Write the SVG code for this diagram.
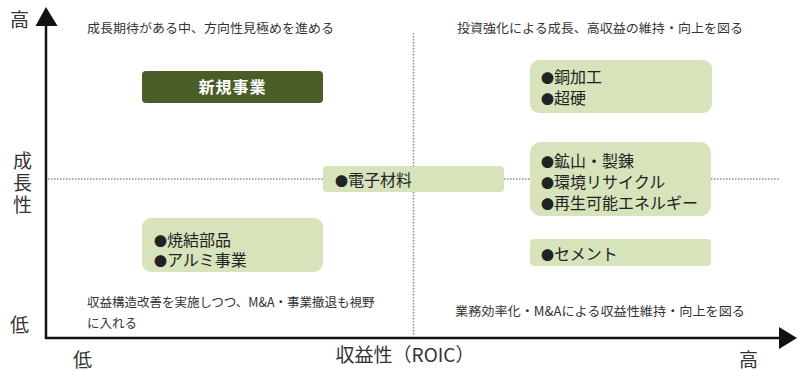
<svg xmlns="http://www.w3.org/2000/svg" width="799" height="371" viewBox="0 0 799 371">
<style>
.q{font-family:"Noto Sans CJK JP","Noto Sans",sans-serif;font-size:12.5px;fill:#333}
.b{font-family:"Noto Sans CJK JP","Noto Sans",sans-serif;font-size:16px;fill:#222}
.bu{font-size:13px}
.ax{font-family:"Noto Sans CJK JP","Noto Sans",sans-serif;font-size:19px;fill:#333}
.lb{fill:#d7e3bb}
.dot{stroke:#8a8a8a;stroke-width:1.5;stroke-dasharray:1.5 1.5;fill:none}
.axis{stroke:#111;stroke-width:2.5;fill:none}
</style>
<rect width="799" height="371" fill="#fff"/>
<g id="grid">
<line class="dot" x1="413.5" y1="33" x2="413.5" y2="336"/>
<line class="dot" x1="48" y1="179" x2="780" y2="179"/>
</g>
<g id="connectors">
<line class="axis" x1="46" y1="339" x2="46" y2="24"/>
<polygon points="46,7 35.5,26 57.5,26" fill="#111"/>
<line class="axis" x1="45" y1="338" x2="782" y2="338"/>
<polygon points="797,338 779,327 779,349" fill="#111"/>
</g>
<g id="axis-labels">
<text class="ax" x="10" y="27">高</text>
<text class="ax" x="13" y="168">成</text>
<text class="ax" x="13" y="190">長</text>
<text class="ax" x="13" y="212">性</text>
<text class="ax" x="10" y="332">低</text>
<text class="ax" x="73" y="367">低</text>
<text class="ax" x="405" y="362" text-anchor="middle" font-size="18">収益性（ROIC）</text>
<text class="ax" x="739" y="367">高</text>
</g>
<g id="quadrant-texts">
<text class="q" x="87" y="33" textLength="247" lengthAdjust="spacingAndGlyphs">成長期待がある中、方向性見極めを進める</text>
<text class="q" x="457" y="33" textLength="286" lengthAdjust="spacingAndGlyphs">投資強化による成長、高収益の維持・向上を図る</text>
<text class="q" x="87" y="307">収益構造改善を実施しつつ、M&amp;A・事業撤退も視野</text>
<text class="q" x="87" y="328">に入れる</text>
<text class="q" x="455" y="316" textLength="290" lengthAdjust="spacingAndGlyphs">業務効率化・M&amp;Aによる収益性維持・向上を図る</text>
</g>
<g id="node-shinki">
<rect x="142" y="71" width="181" height="32" rx="4" fill="#4a5d29"/>
<text x="232.5" y="93" text-anchor="middle" font-family="Noto Sans CJK JP, sans-serif" font-size="16" font-weight="bold" fill="#fff" letter-spacing="1">新規事業</text>
</g>
<g id="node-dou">
<rect class="lb" x="530" y="60" width="182" height="53" rx="9"/>
<text class="b" x="541" y="83"><tspan class="bu">●</tspan>銅加工</text>
<text class="b" x="541" y="104"><tspan class="bu">●</tspan>超硬</text>
</g>
<g id="node-denshi">
<rect class="lb" x="323" y="166" width="181" height="26" rx="4"/>
<text class="b" x="335" y="186"><tspan class="bu">●</tspan>電子材料</text>
</g>
<g id="node-kozan">
<rect class="lb" x="530" y="142" width="181" height="74" rx="11"/>
<text class="b" x="541" y="167"><tspan class="bu">●</tspan>鉱山・製錬</text>
<text class="b" x="541" y="188"><tspan class="bu">●</tspan>環境リサイクル</text>
<text class="b" x="541" y="209"><tspan class="bu">●</tspan>再生可能エネルギー</text>
</g>
<g id="node-cement">
<rect class="lb" x="530" y="239" width="181" height="27" rx="4"/>
<text class="b" x="541" y="260"><tspan class="bu">●</tspan>セメント</text>
</g>
<g id="node-shoketsu">
<rect class="lb" x="142" y="218" width="181" height="54" rx="9"/>
<text class="b" x="154" y="246"><tspan class="bu">●</tspan>焼結部品</text>
<text class="b" x="154" y="266"><tspan class="bu">●</tspan>アルミ事業</text>
</g>
</svg>
